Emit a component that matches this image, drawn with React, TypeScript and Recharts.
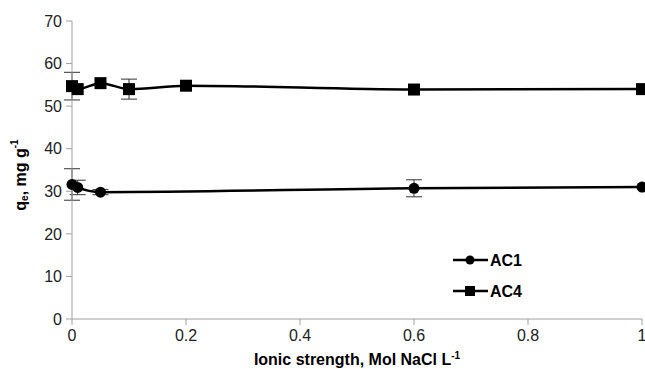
import React from "react";
import { LineChart, Line, XAxis, YAxis, ErrorBar, Label } from "recharts";

const ac1X = [0, 0.01, 0.05, 0.6, 1];
const ac1Y = [31.6, 30.9, 29.8, 30.7, 31.0];
const ac1Err = [3.7, 1.7, 0.6, 2.0, 0];

const ac4X = [0, 0.01, 0.05, 0.1, 0.2, 0.6, 1];
const ac4Y = [54.7, 54.0, 55.4, 54.0, 54.8, 53.9, 54.0];
const ac4Err = [3.25, 0, 0, 2.35, 0, 0, 0];

const xTicks = [0, 0.2, 0.4, 0.6, 0.8, 1];
const yTicks = [0, 10, 20, 30, 40, 50, 60, 70];

const ac1Data = ac1X.map((x, i) => ({ x, y: ac1Y[i], err: ac1Err[i] }));
const ac4Data = ac4X.map((x, i) => ({ x, y: ac4Y[i], err: ac4Err[i] }));

const FONT = "'Liberation Sans', Arial, sans-serif";

const SquareDot = (props: any) => {
  const { cx, cy } = props;
  if (cx == null || cy == null) return null;
  return <rect key={`s-${cx}-${cy}`} x={cx - 6} y={cy - 6} width={12} height={12} fill="#000" />;
};

const CircleDot = (props: any) => {
  const { cx, cy } = props;
  if (cx == null || cy == null) return null;
  return <circle key={`c-${cx}-${cy}`} cx={cx} cy={cy} r={5.5} fill="#000" />;
};

const YLabel = () => (
  <text
    x={20}
    y={175}
    transform="rotate(-90 20 175)"
    textAnchor="middle"
    dominantBaseline="central"
    fontFamily={FONT}
    fontWeight="bold"
    fontSize={16}
    fill="#000"
  >
    q<tspan fontSize={10} dy={4}>e</tspan>
    <tspan dy={-4}>, mg g</tspan>
    <tspan fontSize={10} dy={-6}>-1</tspan>
  </text>
);

const XLabel = () => (
  <text
    x={357}
    y={365}
    textAnchor="middle"
    fontFamily={FONT}
    fontWeight="bold"
    fontSize={16}
    fill="#000"
  >
    Ionic strength, Mol NaCl L<tspan fontSize={10} dy={-6}>-1</tspan>
  </text>
);

const LegendBox = () => (
  <svg
    width={110}
    height={70}
    style={{ position: "absolute", left: 445, top: 240, overflow: "visible" }}
  >
    <line x1={8} y1={20} x2={43} y2={20} stroke="#000" strokeWidth={2.5} />
    <circle cx={25} cy={20} r={4.5} fill="#000" />
    <text x={45} y={26} fontFamily={FONT} fontWeight="bold" fontSize={16} fill="#000">
      AC1
    </text>
    <line x1={8} y1={51} x2={43} y2={51} stroke="#000" strokeWidth={2.5} />
    <rect x={20} y={46} width={10} height={10} fill="#000" />
    <text x={45} y={57} fontFamily={FONT} fontWeight="bold" fontSize={16} fill="#000">
      AC4
    </text>
  </svg>
);

export default function App() {
  const tickStyle = { fontFamily: FONT, fontSize: 16, fill: "#222" };
  return (
    <div
      style={{
        position: "fixed",
        left: 0,
        top: 0,
        width: 645,
        height: 369,
        overflow: "hidden",
        background: "#fff",
      }}
    >
      <LineChart
        width={662}
        height={369}
        margin={{ top: 21, right: 20, bottom: 0, left: 8 }}
      >
        <XAxis
          type="number"
          dataKey="x"
          domain={[0, 1]}
          ticks={xTicks}
          interval={0}
          tickFormatter={(v: number) => String(v)}
          stroke="#a0a0a0"
          tickSize={6}
          tick={tickStyle}
          tickMargin={5}
          height={50}
          allowDuplicatedCategory={false}
        >
          <Label content={<XLabel />} />
        </XAxis>
        <YAxis
          type="number"
          dataKey="y"
          domain={[0, 70]}
          ticks={yTicks}
          interval={0}
          stroke="#a0a0a0"
          tickSize={6}
          tick={tickStyle}
          tickMargin={4}
          width={64}
        >
          <Label content={<YLabel />} />
        </YAxis>
        <Line
          data={ac1Data}
          dataKey="y"
          type="monotone"
          stroke="#000"
          strokeWidth={2.5}
          dot={<CircleDot />}
          activeDot={false}
          isAnimationActive={false}
        >
          <ErrorBar dataKey="err" width={8} stroke="#333" strokeWidth={1} direction="y" />
        </Line>
        <Line
          data={ac4Data}
          dataKey="y"
          type="monotone"
          stroke="#000"
          strokeWidth={2.5}
          dot={<SquareDot />}
          activeDot={false}
          isAnimationActive={false}
        >
          <ErrorBar dataKey="err" width={8} stroke="#333" strokeWidth={1} direction="y" />
        </Line>
      </LineChart>
      <LegendBox />
    </div>
  );
}
